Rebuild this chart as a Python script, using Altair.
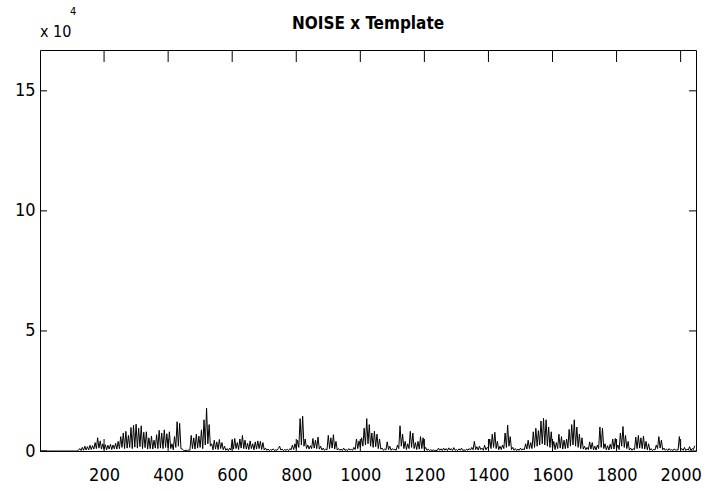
import altair as alt
import pandas as pd
import numpy as np

# Sample positions (every 4th sample of a 2048-sample record)
sample_x = np.arange(0, 2048, 4)

# Read-off amplitudes, in thousands, one list per 128-sample block
blk00 = [0, 0, 0, 0, 0, 0, 0, 0, 0, 0, 0, 0, 0, 0, 0, 0, 0, 0, 0, 0, 0, 0, 0, 0, 0, 0, 0, 0, 0, 0, 0.3, 1.0]
blk01 = [0.2, 1.5, 0.3, 2.0, 0.4, 1.8, 0.5, 2.4, 0.6, 2.2, 0.8, 3.5, 1.0, 5.5, 1.2, 4.2, 0.8, 3.0, 0.7, 2.6, 0.5, 2.4, 0.8, 2.8, 0.6, 2.5, 0.9, 3.2, 0.8, 4.0, 1.0, 6.0]
blk02 = [1.5, 7.5, 1.0, 8.2, 1.2, 6.5, 1.5, 9.8, 1.0, 10.8, 1.6, 11.2, 1.2, 9.5, 1.8, 10.5, 1.0, 7.8, 1.4, 8.0, 0.8, 5.5, 1.0, 6.2, 0.8, 4.5, 1.2, 6.8, 1.0, 8.6, 1.2, 7.5]
blk03 = [1.0, 8.8, 1.5, 7.2, 1.2, 8.0, 1.0, 3.0, 0.5, 6.0, 1.5, 12.2, 2.0, 11.5, 1.0, 0.8, 0.3, 0.2, 0.3, 0.2, 0.4, 0.3, 6.5, 1.0, 5.5, 0.8, 7.0, 1.2, 6.2, 1.5, 8.8, 1.0]
blk04 = [13.0, 2.5, 17.8, 3.0, 11.0, 2.0, 3.0, 0.5, 4.5, 0.8, 3.8, 0.6, 4.8, 1.0, 3.5, 0.5, 2.0, 0.3, 1.0, 0.2, 1.2, 0.4, 4.5, 0.8, 5.2, 1.0, 3.5, 0.6, 5.0, 1.2, 6.5, 1.0]
blk05 = [4.5, 0.8, 3.2, 0.6, 4.2, 1.0, 3.0, 0.5, 3.8, 0.8, 4.2, 1.0, 4.0, 0.6, 3.5, 0.4, 1.2, 0.3, 0.8, 0.2, 0.6, 0.3, 0.9, 0.2, 0.5, 0.3, 1.0, 2.0, 0.4, 0.8, 0.2, 0.6]
blk06 = [0.3, 0.7, 0.2, 1.0, 0.5, 2.5, 0.6, 3.0, 1.0, 4.5, 1.5, 13.5, 2.5, 14.5, 2.0, 5.0, 1.0, 2.5, 0.8, 2.2, 1.0, 5.2, 1.2, 4.5, 1.0, 5.8, 0.8, 2.0, 0.4, 1.2, 0.3, 0.8]
blk07 = [0.5, 6.5, 1.0, 5.5, 1.2, 6.8, 0.8, 4.0, 0.4, 1.0, 0.3, 0.8, 0.2, 1.2, 0.3, 0.6, 0.2, 1.0, 0.4, 0.7, 0.3, 1.5, 0.6, 5.0, 1.0, 4.2, 1.5, 5.5, 2.0, 9.5, 2.5, 13.5]
blk08 = [3.0, 11.0, 2.0, 7.5, 1.5, 8.2, 1.8, 7.0, 1.0, 5.0, 0.8, 1.2, 0.3, 0.8, 0.4, 3.8, 0.6, 2.0, 0.3, 1.0, 0.4, 0.8, 0.3, 2.5, 1.0, 10.5, 2.0, 7.0, 1.0, 4.0, 0.6, 3.0]
blk09 = [1.0, 8.2, 1.5, 7.5, 1.0, 3.5, 0.6, 4.0, 0.8, 6.0, 1.0, 5.5, 0.6, 1.5, 0.3, 0.8, 0.2, 0.5, 0.2, 0.4, 0.2, 0.3, 0.2, 1.2, 0.3, 0.9, 0.2, 1.2, 0.3, 1.0, 0.2, 1.3]
blk10 = [0.4, 1.0, 0.2, 1.4, 0.3, 0.6, 0.2, 0.9, 0.3, 1.2, 0.2, 0.5, 0.2, 0.8, 0.3, 1.0, 0.4, 1.5, 0.5, 4.0, 0.6, 1.8, 0.4, 2.0, 0.6, 1.2, 0.3, 2.4, 0.5, 1.5, 1.0, 5.0]
blk11 = [1.0, 7.0, 1.5, 7.8, 1.0, 4.0, 0.5, 2.0, 0.6, 2.5, 1.0, 7.5, 1.5, 10.8, 2.0, 6.0, 0.6, 1.5, 0.3, 1.0, 0.2, 0.8, 0.3, 1.2, 0.4, 0.9, 0.5, 3.0, 0.8, 4.5, 1.0, 3.5]
blk12 = [1.0, 8.0, 1.5, 9.5, 2.0, 8.5, 2.5, 12.5, 3.0, 13.6, 2.5, 13.0, 2.0, 10.0, 1.5, 8.0, 1.0, 4.0, 0.6, 3.5, 1.0, 7.0, 1.2, 6.0, 0.8, 4.5, 1.0, 5.0, 1.2, 9.0, 2.0, 11.0]
blk13 = [2.5, 13.0, 2.0, 10.0, 1.5, 7.0, 1.0, 5.5, 0.8, 2.0, 0.5, 1.5, 0.6, 3.8, 0.8, 3.5, 0.5, 2.0, 0.4, 2.5, 1.0, 10.0, 1.5, 9.5, 1.0, 3.0, 0.5, 2.2, 0.4, 2.8, 0.8, 5.0]
blk14 = [0.8, 5.2, 1.0, 2.5, 0.6, 7.5, 2.0, 10.2, 1.5, 6.5, 1.0, 4.0, 0.4, 1.2, 0.3, 1.0, 0.5, 5.8, 1.0, 6.5, 1.2, 5.5, 1.0, 6.2, 0.8, 4.0, 0.5, 3.0, 0.3, 1.0, 0.2, 0.7]
blk15 = [0.4, 2.5, 1.0, 6.0, 1.2, 4.5, 0.5, 1.2, 0.3, 0.8, 0.2, 1.0, 0.3, 0.6, 0.2, 0.9, 0.3, 0.5, 0.4, 6.0, 0.5, 1.0, 0.3, 1.5, 0.2, 0.8, 0.4, 1.8, 0.3, 1.0, 0.6, 2.2]

blocks = [blk00, blk01, blk02, blk03, blk04, blk05, blk06, blk07,
          blk08, blk09, blk10, blk11, blk12, blk13, blk14, blk15]
amp_thousands = [v for b in blocks for v in b]

x_ticks = [200, 400, 600, 800, 1000, 1200, 1400, 1600, 1800, 2000]
y_ticks = [0, 50000, 100000, 150000]
title_text = "NOISE x Template"

FONT = "DejaVu Sans Condensed, Liberation Sans, sans-serif"
W, H = 656, 401

df = pd.DataFrame({"x": sample_x, "y": np.array(amp_thousands) * 1000.0})

xscale = alt.Scale(domain=[0, 2048], nice=False, zero=False)
yscale = alt.Scale(domain=[0, 167000], nice=False, zero=False)

x_axis = alt.Axis(values=x_ticks, format="d", ticks=False, domain=False, grid=False,
                  labelFont=FONT, labelFontSize=18, labelColor="black",
                  labelPadding=15, title=None, labelFlush=False)
y_axis = alt.Axis(values=y_ticks, labelExpr="datum.value / 10000",
                  ticks=False, domain=False, grid=False,
                  labelFont=FONT, labelFontSize=18, labelColor="black",
                  labelPadding=5, title=None, labelFlush=False)

line = alt.Chart(df).mark_line(color="black", strokeWidth=1).encode(
    x=alt.X("x:Q", scale=xscale, axis=x_axis),
    y=alt.Y("y:Q", scale=yscale, axis=y_axis),
)

xt = pd.DataFrame({"t": x_ticks})
yt = pd.DataFrame({"t": y_ticks})

xtick_bottom = alt.Chart(xt).mark_rule(color="black", strokeWidth=1).encode(
    x=alt.X("t:Q", scale=xscale, axis=x_axis), y=alt.value(H), y2=alt.value(H - 12))
xtick_top = alt.Chart(xt).mark_rule(color="black", strokeWidth=1).encode(
    x=alt.X("t:Q", scale=xscale, axis=x_axis), y=alt.value(0), y2=alt.value(12))
ytick_left = alt.Chart(yt).mark_rule(color="black", strokeWidth=1).encode(
    y=alt.Y("t:Q", scale=yscale, axis=y_axis), x=alt.value(0), x2=alt.value(7))
ytick_right = alt.Chart(yt).mark_rule(color="black", strokeWidth=1).encode(
    y=alt.Y("t:Q", scale=yscale, axis=y_axis), x=alt.value(W - 7), x2=alt.value(W))

title = alt.Chart(pd.DataFrame({"t": [title_text]})).mark_text(
    font=FONT, fontSize=17, fontWeight="bold", color="black",
    align="center", baseline="alphabetic").encode(
    text="t:N", x=alt.value(W / 2), y=alt.value(-21))

exp_base = alt.Chart(pd.DataFrame({"t": ["x 10"]})).mark_text(
    font=FONT, fontSize=16, color="black", align="left", baseline="alphabetic").encode(
    text="t:N", x=alt.value(0), y=alt.value(-13))
exp_sup = alt.Chart(pd.DataFrame({"t": ["4"]})).mark_text(
    font=FONT, fontSize=11, color="black", align="left", baseline="alphabetic").encode(
    text="t:N", x=alt.value(30), y=alt.value(-35))

chart = alt.layer(line, xtick_bottom, xtick_top, ytick_left, ytick_right,
                  title, exp_base, exp_sup).properties(
    width=W, height=H,
    autosize=alt.AutoSizeParams(type="none"),
    padding={"left": 40, "top": 50, "right": 10, "bottom": 40},
    background="white",
).configure_view(stroke="black", strokeWidth=1)

chart.save("out.html", embed_options={"renderer": "svg", "actions": False})
